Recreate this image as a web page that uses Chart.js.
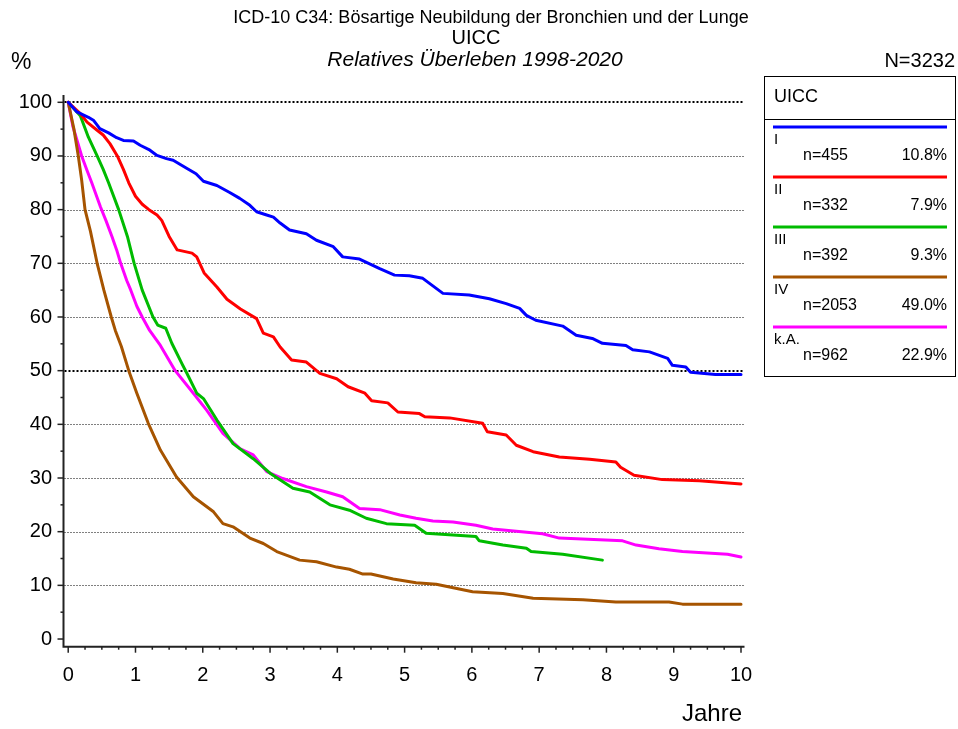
<!DOCTYPE html>
<html>
<head>
<meta charset="utf-8">
<script src="https://cdn.jsdelivr.net/npm/chart.js@4.4.0/dist/chart.umd.min.js"></script>
<style>
html, body { margin: 0; padding: 0; background: #fff; }
#wrap { width: 958px; height: 729px; position: relative; }
</style>
</head>
<body>
<div id="wrap"><canvas id="survChart"></canvas></div>
<script>
// legend / categories
const stages = ['I', 'II', 'III', 'IV', 'k.A.'];
const counts = [455, 332, 392, 2053, 962];
const shares = ['10.8%', '7.9%', '9.3%', '49.0%', '22.9%'];
const colors = ['#0000FF', '#FF0000', '#00BB00', '#A65400', '#FF00FF'];

// tick labels
const yearTicks = [0, 1, 2, 3, 4, 5, 6, 7, 8, 9, 10];
const percentTicks = [0, 10, 20, 30, 40, 50, 60, 70, 80, 90, 100];

// relative survival (%)
const yearsI = [0, 0.13, 0.3, 0.38, 0.47, 0.6, 0.72, 0.82, 0.97, 1.07, 1.2, 1.32, 1.46, 1.56, 1.76, 1.9, 2.01, 2.21, 2.4, 2.55, 2.7, 2.8, 2.95, 3.05, 3.15, 3.29, 3.54, 3.69, 3.94, 4.08, 4.33, 4.63, 4.85, 5.07, 5.27, 5.57, 5.96, 6.26, 6.51, 6.71, 6.81, 6.95, 7.35, 7.55, 7.79, 7.94, 8.29, 8.39, 8.64, 8.91, 8.98, 9.18, 9.25, 9.62, 10];
const survI = [100, 98.2, 97.2, 96.6, 95.1, 94.3, 93.4, 92.9, 92.8, 92.0, 91.2, 90.1, 89.5, 89.2, 87.7, 86.7, 85.3, 84.5, 83.2, 82.1, 80.8, 79.6, 79.0, 78.6, 77.5, 76.2, 75.5, 74.3, 73.1, 71.2, 70.8, 69.0, 67.8, 67.7, 67.2, 64.4, 64.1, 63.4, 62.5, 61.6, 60.3, 59.4, 58.3, 56.6, 56.0, 55.1, 54.7, 53.9, 53.5, 52.3, 51.0, 50.7, 49.7, 49.3, 49.3];

const yearsII = [0, 0.18, 0.28, 0.43, 0.52, 0.62, 0.73, 0.82, 0.9, 1.0, 1.1, 1.2, 1.32, 1.39, 1.5, 1.62, 1.84, 1.91, 2.02, 2.21, 2.36, 2.56, 2.8, 2.9, 3.05, 3.15, 3.32, 3.54, 3.74, 3.99, 4.16, 4.41, 4.51, 4.75, 4.9, 5.22, 5.3, 5.67, 6.16, 6.23, 6.51, 6.66, 6.91, 7.3, 7.75, 8.14, 8.21, 8.41, 8.83, 9.38, 10];
const survII = [100, 97.9, 96.3, 94.8, 93.9, 92.3, 90.0, 87.5, 85.0, 82.5, 81.0, 80.0, 79.0, 78.0, 75.0, 72.5, 71.9, 71.2, 68.2, 65.6, 63.3, 61.5, 59.7, 57.0, 56.3, 54.4, 52.0, 51.6, 49.5, 48.5, 47.0, 45.8, 44.4, 44.0, 42.3, 42.0, 41.4, 41.2, 40.2, 38.6, 38.0, 36.1, 34.9, 33.9, 33.5, 33.0, 32.0, 30.5, 29.7, 29.5, 28.9];

const yearsIII = [0, 0.18, 0.3, 0.43, 0.52, 0.6, 0.75, 0.88, 0.98, 1.1, 1.26, 1.33, 1.45, 1.54, 1.69, 1.76, 1.91, 2.01, 2.21, 2.45, 2.75, 3.0, 3.34, 3.59, 3.89, 4.18, 4.43, 4.73, 5.15, 5.32, 6.06, 6.11, 6.46, 6.81, 6.88, 7.35, 7.94];
const survIII = [100, 97.5, 93.5, 90.0, 87.5, 85.0, 80.0, 75.0, 70.0, 65.0, 60.0, 58.5, 57.9, 55.1, 51.3, 49.6, 45.8, 44.8, 40.8, 36.4, 33.6, 30.9, 28.1, 27.4, 25.0, 24.0, 22.5, 21.5, 21.2, 19.7, 19.1, 18.3, 17.5, 16.9, 16.3, 15.8, 14.7];

const yearsIV = [0, 0.085, 0.15, 0.2, 0.25, 0.33, 0.43, 0.53, 0.64, 0.7, 0.79, 0.9, 1.02, 1.19, 1.37, 1.61, 1.86, 2.16, 2.3, 2.45, 2.7, 2.9, 3.1, 3.44, 3.69, 3.99, 4.18, 4.38, 4.5, 4.83, 5.17, 5.47, 6.01, 6.46, 6.91, 7.65, 8.14, 8.93, 9.13, 10];
const survIV = [100, 95.0, 90.0, 85.5, 80.0, 76.0, 70.0, 65.0, 60.0, 57.5, 54.5, 50.0, 45.8, 40.2, 35.2, 30.2, 26.5, 23.7, 21.5, 20.9, 18.8, 17.8, 16.3, 14.7, 14.4, 13.4, 13.0, 12.1, 12.1, 11.2, 10.5, 10.2, 8.8, 8.5, 7.6, 7.3, 6.9, 6.9, 6.5, 6.5];

const yearsKA = [0, 0.07, 0.2, 0.28, 0.35, 0.48, 0.56, 0.65, 0.72, 0.78, 0.87, 0.93, 1.02, 1.1, 1.21, 1.37, 1.59, 1.86, 2.06, 2.3, 2.55, 2.75, 2.95, 3.19, 3.54, 3.84, 4.08, 4.33, 4.63, 4.93, 5.17, 5.42, 5.72, 6.06, 6.31, 7.05, 7.3, 8.24, 8.44, 8.78, 9.13, 9.8, 10];
const survKA = [100, 95.5, 90.0, 87.3, 85.0, 80.5, 78.0, 75.0, 72.5, 70.0, 66.8, 65.0, 62.0, 60.0, 57.5, 54.7, 50.0, 45.8, 42.6, 38.3, 35.5, 34.3, 31.2, 29.9, 28.4, 27.4, 26.5, 24.3, 24.1, 23.1, 22.5, 22.0, 21.8, 21.2, 20.5, 19.6, 18.8, 18.3, 17.5, 16.8, 16.3, 15.8, 15.3];

const seriesYears = [yearsI, yearsII, yearsIII, yearsIV, yearsKA];
const seriesSurv = [survI, survII, survIII, survIV, survKA];

const FONT = '"Liberation Sans", Arial, Helvetica, sans-serif';

function txt(ctx, s, x, y, size, align, style) {
    ctx.font = (style || '') + ' ' + size + 'px ' + FONT;
    ctx.textAlign = align;
    ctx.textBaseline = 'middle';
    ctx.fillStyle = '#000';
    ctx.fillText(s, x, y);
}

const frame = {
    id: 'frame',
    beforeDatasetsDraw(chart) {
        const {ctx, chartArea: a, scales: {y}} = chart;
        ctx.save();
        ctx.strokeStyle = '#000';
        percentTicks.forEach(v => {
            if (v === 0) return;
            const heavy = v === 100 || v === 50;
            const py = heavy ? Math.round(y.getPixelForValue(v)) : Math.round(y.getPixelForValue(v)) + 0.5;
            ctx.lineWidth = heavy ? 2 : 1;
            ctx.setLineDash(heavy ? [2, 2] : [1, 2]);
            ctx.beginPath();
            ctx.moveTo(a.left + 1, py);
            ctx.lineTo(a.right, py);
            ctx.stroke();
        });
        ctx.restore();
    },
    afterDraw(chart) {
        const {ctx, chartArea: a, scales: {x, y}} = chart;
        ctx.save();
        // axes
        ctx.strokeStyle = '#222';
        ctx.lineWidth = 2;
        ctx.beginPath();
        ctx.moveTo(a.left, a.top);
        ctx.lineTo(a.left, a.bottom);
        ctx.lineTo(a.right, a.bottom);
        ctx.stroke();
        // y ticks
        ctx.lineWidth = 1.5;
        for (let v = 0; v <= 100; v += 5) {
            const py = y.getPixelForValue(v);
            const len = v % 10 === 0 ? 6 : 3;
            ctx.beginPath();
            ctx.moveTo(a.left - len, py);
            ctx.lineTo(a.left, py);
            ctx.stroke();
        }
        // x ticks
        for (let q = 0; q <= 40; q++) {
            const px = x.getPixelForValue(q / 4);
            const len = q % 4 === 0 ? 6 : 3;
            ctx.beginPath();
            ctx.moveTo(px, a.bottom);
            ctx.lineTo(px, a.bottom + len);
            ctx.stroke();
        }
        percentTicks.forEach(v => txt(ctx, String(v), 52, y.getPixelForValue(v), 20, 'right'));
        yearTicks.forEach(v => txt(ctx, String(v), x.getPixelForValue(v), 675, 20, 'center'));
        txt(ctx, 'Jahre', x.getPixelForValue(10) + 1, 714, 24, 'right');
        txt(ctx, '%', 11, 63, 23, 'left');

        // titles
        txt(ctx, 'ICD-10 C34: Bösartige Neubildung der Bronchien und der Lunge', 491, 18, 18, 'center');
        txt(ctx, 'UICC', 476, 38, 20, 'center');
        txt(ctx, 'Relatives Überleben 1998-2020', 475, 60, 21, 'center', 'italic');
        txt(ctx, 'N=3232', 955, 61, 20, 'right');

        // legend box
        ctx.strokeStyle = '#000';
        ctx.lineWidth = 1;
        ctx.strokeRect(764.5, 76.5, 191, 300);
        ctx.beginPath();
        ctx.moveTo(764.5, 119.5);
        ctx.lineTo(955.5, 119.5);
        ctx.stroke();
        txt(ctx, 'UICC', 774, 97, 18, 'left');
        stages.forEach((s, i) => {
            const ly = 127 + 50 * i;
            ctx.strokeStyle = colors[i];
            ctx.lineWidth = 3;
            ctx.beginPath();
            ctx.moveTo(773, ly);
            ctx.lineTo(947, ly);
            ctx.stroke();
            txt(ctx, s, 774, ly + 13, 15, 'left');
            txt(ctx, 'n=' + counts[i], 803, ly + 29, 16, 'left');
            txt(ctx, shares[i], 947, ly + 29, 16, 'right');
        });
        ctx.restore();
    }
};

new Chart(document.getElementById('survChart'), {
    type: 'line',
    data: {
        datasets: stages.map((s, i) => ({
            label: s,
            data: seriesYears[i].map((t, k) => ({x: t, y: seriesSurv[i][k]})),
            borderColor: colors[i],
            borderWidth: 3,
            pointRadius: 0,
            tension: 0,
            fill: false,
            borderJoinStyle: 'round',
            borderCapStyle: 'round'
        }))
    },
    options: {
        responsive: true,
        maintainAspectRatio: false,
        animation: false,
        layout: {padding: {left: 63.5, top: 95, right: 213.5, bottom: 82.3}},
        plugins: {
            legend: {display: false},
            tooltip: {enabled: false},
            title: {display: false}
        },
        scales: {
            x: {type: 'linear', display: false, min: -0.07, max: 10.052},
            y: {type: 'linear', display: false, min: -1.43, max: 101.36}
        }
    },
    plugins: [frame]
});
</script>
</body>
</html>
